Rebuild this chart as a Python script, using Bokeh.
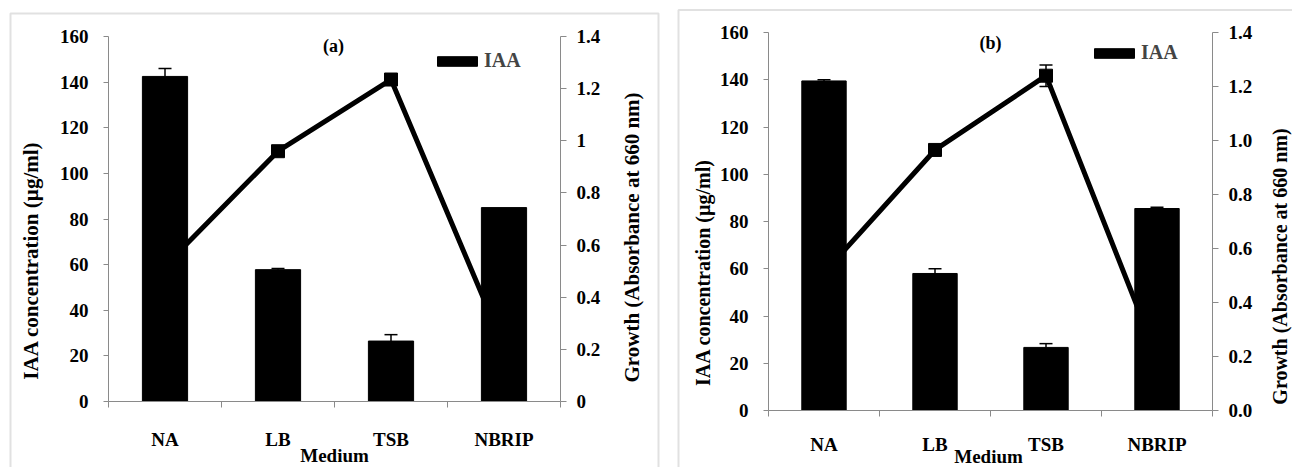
import math
from bokeh.plotting import figure
from bokeh.models import (Range1d, LinearAxis, FixedTicker,
                          CustomJSTickFormatter, ColumnDataSource, Whisker, TeeHead, Label,
                          Legend, LegendItem, BoxAnnotation)
from bokeh.layouts import row
from bokeh.embed import file_html
from bokeh.resources import INLINE

# ---------------- data ----------------
media = ["NA", "LB", "TSB", "NBRIP"]

iaa_a = [142.5, 57.8, 26.5, 85.0]
iaa_err_a = [3.5, 0.5, 2.8, 0.0]
growth_a = [0.52, 0.96, 1.235, 0.21]
growth_err_a = [0.0, 0.0, 0.0, 0.0]

iaa_b = [139.5, 58.0, 26.7, 85.5]
iaa_err_b = [0.5, 2.0, 1.6, 0.5]
growth_b = [0.51, 0.965, 1.24, 0.20]
growth_err_b = [0.0, 0.0, 0.04, 0.0]

iaa_ticks = [0, 20, 40, 60, 80, 100, 120, 140, 160]
growth_ticks = [0, 0.2, 0.4, 0.6, 0.8, 1.0, 1.2, 1.4]
growth_labels_a = ["0", "0.2", "0.4", "0.6", "0.8", "1", "1.2", "1.4"]
growth_labels_b = ["0.0", "0.2", "0.4", "0.6", "0.8", "1.0", "1.2", "1.4"]

IAA_MAX = 160
GROWTH_MAX = 1.4

FONT = "Liberation Serif"
AXC = "#8a8a8a"

# category slots: index i occupies [i, i+1] on the x scale
NCAT = len(media)
xpos = [i + 0.5 for i in range(NCAT)]
xbounds = [i for i in range(NCAT + 1)]


def panel(W, H, fl, fr, ft, fb, iaa, iaa_err, growth, growth_err, glabels, tag,
          tag_px, ylab_px, y2lab_px, med_px, leg_px, box_px, fs_tick, fs_title, cat_standoff):
    # the plotting frame covers the whole canvas; the data area is the box fl..fr, ft..fb
    sx = NCAT / (fr - fl)
    sy = IAA_MAX / (fb - ft)
    sy2 = GROWTH_MAX / (fb - ft)
    x_range = Range1d(-fl * sx, NCAT + (W - fr) * sx)
    y_range = Range1d(-(H - fb) * sy, IAA_MAX + ft * sy)
    y2_range = Range1d(-(H - fb) * sy2, GROWTH_MAX + ft * sy2)

    def dx(px):
        return (px - fl) * sx

    def dy(py):
        return (fb - py) * sy

    p = figure(width=W, height=H, x_range=x_range, y_range=y_range, title=None,
               x_axis_type=None, y_axis_type=None, output_backend="svg", toolbar_location=None,
               min_border=0, min_border_left=0, min_border_right=0, min_border_top=0,
               min_border_bottom=0)
    p.extra_y_ranges = {"g": y2_range}
    p.outline_line_color = None
    p.background_fill_color = "white"
    p.border_fill_color = "white"

    def style_ax(ax, out):
        ax.axis_line_color = AXC
        ax.major_tick_line_color = AXC
        ax.major_tick_out = out
        ax.major_tick_in = 0
        ax.minor_tick_line_color = None
        ax.major_label_text_font = FONT
        ax.major_label_text_font_style = "bold"
        ax.major_label_text_font_size = fs_tick
        ax.major_label_text_color = "black"

    yax = LinearAxis(ticker=FixedTicker(ticks=iaa_ticks), fixed_location=0,
                     bounds=(0, IAA_MAX))
    style_ax(yax, 5)
    yax.major_label_standoff = 15
    p.add_layout(yax, "left")

    y2 = LinearAxis(y_range_name="g", ticker=FixedTicker(ticks=growth_ticks),
                    fixed_location=NCAT, bounds=(0, GROWTH_MAX),
                    formatter=CustomJSTickFormatter(
                        args=dict(lbls=glabels, tvals=growth_ticks),
                        code="""
                        let best = 0, d = 1e9;
                        for (let i = 0; i < tvals.length; i++) {
                          const dd = Math.abs(tvals[i] - tick);
                          if (dd < d) { d = dd; best = i; }
                        }
                        return lbls[best];
                        """))
    style_ax(y2, 6)
    y2.major_label_standoff = 10
    p.add_layout(y2, "right")

    xax = LinearAxis(ticker=FixedTicker(ticks=xpos, minor_ticks=xbounds),
                     fixed_location=0, bounds=(0, NCAT),
                     formatter=CustomJSTickFormatter(args=dict(cats=media),
                                                     code="return cats[Math.floor(tick)];"))
    style_ax(xax, 0)
    xax.major_tick_line_color = None
    xax.minor_tick_line_color = AXC
    xax.minor_tick_out = 6
    xax.minor_tick_in = 0
    xax.major_label_standoff = cat_standoff
    p.add_layout(xax, "below")

    # growth line (under the bars)
    p.line(x=xpos, y=growth, y_range_name="g", line_width=5, line_color="black")
    p.scatter(x=xpos, y=growth, y_range_name="g", marker="square", size=13,
              fill_color="black", line_color="black")
    gsrc = ColumnDataSource(dict(x=[m for m, e in zip(xpos, growth_err) if e > 0],
                                 lo=[g - e for g, e in zip(growth, growth_err) if e > 0],
                                 hi=[g + e for g, e in zip(growth, growth_err) if e > 0]))
    p.add_layout(Whisker(source=gsrc, base="x", lower="lo", upper="hi", y_range_name="g",
                         line_width=1.5, line_color="black", level="annotation",
                         upper_head=TeeHead(size=13, line_width=1.5, line_color="black"),
                         lower_head=TeeHead(size=13, line_width=1.5, line_color="black")))

    bars = p.vbar(x=xpos, top=iaa, width=0.4, fill_color="black", line_color="black")
    bsrc = ColumnDataSource(dict(x=[m for m, e in zip(xpos, iaa_err) if e > 0],
                                 lo=[v for v, e in zip(iaa, iaa_err) if e > 0],
                                 hi=[v + e for v, e in zip(iaa, iaa_err) if e > 0]))
    p.add_layout(Whisker(source=bsrc, base="x", lower="lo", upper="hi",
                         line_width=1.5, line_color="black", level="annotation",
                         upper_head=TeeHead(size=13, line_width=1.5, line_color="black"),
                         lower_head=None))

    leg = Legend(items=[LegendItem(label="IAA", renderers=[bars])],
                 location=(leg_px[0], H - leg_px[1]),
                 glyph_width=50, glyph_height=12, label_standoff=2, padding=0, margin=0,
                 spacing=0, border_line_color=None, background_fill_alpha=0,
                 label_text_font=FONT, label_text_font_style="bold",
                 label_text_font_size="20px", label_height=12)
    p.add_layout(leg)

    def lab(text, pxy, size, angle=0.0):
        p.add_layout(Label(x=dx(pxy[0]), y=dy(pxy[1]), text=text, angle=angle,
                           text_align="center", text_baseline="middle", text_font=FONT,
                           text_font_style="bold", text_font_size=size, text_color="black"))

    lab(tag, tag_px, "18px")
    lab("IAA concentration (\u00b5g/ml)", ylab_px, fs_title, math.pi / 2)
    lab("Growth (Absorbance at 660 nm)", y2lab_px, fs_title, math.pi / 2)
    lab("Medium", med_px, fs_tick)

    p.add_layout(BoxAnnotation(left=dx(box_px[0]), right=dx(box_px[1]),
                               top=dy(box_px[2]), bottom=dy(box_px[3]),
                               fill_alpha=0, line_color="#9a9a9a", line_width=2,
                               level="overlay"))
    return p


pa = panel(668, 467, 108, 560, 36, 401, iaa_a, iaa_err_a, growth_a, growth_err_a,
           growth_labels_a, "(a)", (333, 45), (30, 260), (631, 237), (334, 455),
           (432, 72), (10, 658, 13, 480), "19px", "21px", 21)
pb = panel(624, 467, 100, 544, 32, 410, iaa_b, iaa_err_b, growth_b, growth_err_b,
           growth_labels_b, "(b)", (322, 42), (34, 272), (611, 266), (320, 456),
           (421, 64), (10, 640, 9.5, 480), "19px", "20px", 17)

layout = row(pa, pb)
open("out.html", "w").write(file_html(layout, INLINE))
